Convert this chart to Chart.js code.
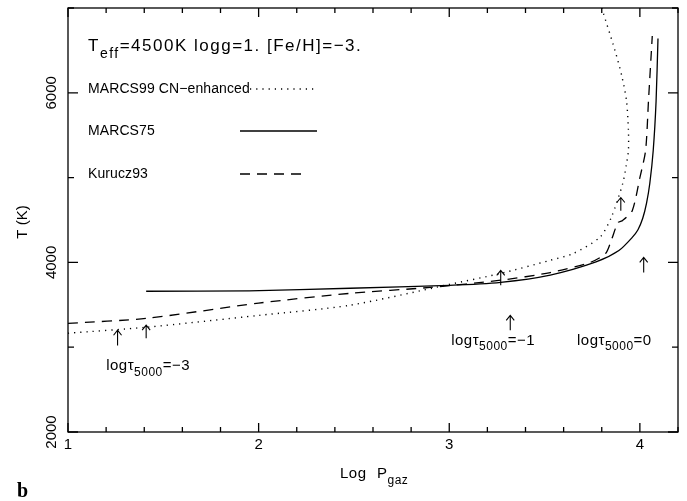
<!DOCTYPE html>
<html>
<head>
    <title>T vs Log Pgaz</title>
    <script src="https://cdn.jsdelivr.net/npm/chart.js"></script>
    <style>body { margin: 0; background: #fff; }</style>
</head>
<body>
    <canvas id="myChart" width="687" height="501"></canvas>
    <script>
        // Curves (log Pgaz, T in K)
        const logP_marcs99 = [1.00, 1.41, 2.00, 2.48, 3.00, 3.27, 3.53, 3.65, 3.79, 3.85, 3.91, 3.93, 3.94, 3.94, 3.93, 3.905, 3.87, 3.80];
        const T_marcs99 = [3165, 3235, 3375, 3495, 3740, 3870, 4025, 4105, 4295, 4530, 4930, 5165, 5320, 5550, 5905, 6200, 6495, 7000];

        const logP_marcs75 = [1.41, 1.95, 2.48, 3.00, 3.27, 3.53, 3.77, 3.89, 3.96, 3.99, 4.015, 4.035, 4.052, 4.07, 4.085, 4.095];
        const T_marcs75 = [3660, 3665, 3695, 3730, 3765, 3850, 4005, 4140, 4295, 4385, 4520, 4700, 4930, 5320, 5900, 6640];

        const logP_kurucz93 = [1.00, 1.41, 2.00, 2.48, 2.90, 3.27, 3.53, 3.74, 3.82, 3.85, 3.885, 3.91, 3.96, 4.00, 4.03, 4.045, 4.065];
        const T_kurucz93 = [3280, 3340, 3520, 3635, 3705, 3790, 3880, 4000, 4105, 4260, 4470, 4495, 4610, 5000, 5320, 5900, 6670];

        const seriesNames = ['MARCS99 CN\u2212enhanced', 'MARCS75', 'Kurucz93'];

        // tau markers (arrows) and their labels
        const arrowX = [1.26, 1.41, 3.27, 3.32, 3.90, 4.02];
        const arrowFrom = [3020, 3105, 3730, 3200, 4610, 3880];
        const arrowTo = [3200, 3260, 3905, 3375, 4765, 4060];
        const tauLabels = ['\u22123', '\u22121', '0'];
        const tauLabelX = [1.20, 3.01, 3.67];
        const tauLabelT = [2780, 3080, 3080];

        const xTicks = ['1', '2', '3', '4'];
        const yTicks = ['2000', '4000', '6000'];

        const toPoints = (xs, ys) => xs.map((x, i) => ({ x, y: ys[i] }));
        const FONT = '"Liberation Sans", Arial, sans-serif';

        // draw text made of [string, isSubscript] pieces
        function drawParts(ctx, parts, x, y, size, spacing) {
            ctx.textBaseline = 'middle';
            ctx.textAlign = 'left';
            parts.forEach(([s, sub]) => {
                ctx.font = (sub ? Math.round(size * 0.8) : size) + 'px ' + FONT;
                ctx.letterSpacing = spacing + 'px';
                ctx.fillText(s, x, sub ? y + size * 0.45 : y);
                x += ctx.measureText(s).width;
            });
            ctx.letterSpacing = '0px';
        }

        const decor = {
            id: 'decor',
            afterDraw(chart) {
                const ctx = chart.ctx;
                const a = chart.chartArea;
                const xs = chart.scales.x, ys = chart.scales.y;
                ctx.save();
                ctx.strokeStyle = '#000';
                ctx.fillStyle = '#000';
                ctx.lineWidth = 1.3;
                ctx.strokeRect(a.left, a.top, a.right - a.left, a.bottom - a.top);

                // ticks on all four sides
                ctx.beginPath();
                for (let i = 0; i <= 16; i++) {
                    const v = 1 + i * 0.2;
                    const px = xs.getPixelForValue(v);
                    const len = i % 5 === 0 ? 9 : 5;
                    ctx.moveTo(px, a.bottom); ctx.lineTo(px, a.bottom - len);
                    ctx.moveTo(px, a.top); ctx.lineTo(px, a.top + len);
                }
                for (let v = 2000; v <= 7000; v += 1000) {
                    const py = ys.getPixelForValue(v);
                    const len = v % 2000 === 0 ? 10 : 6;
                    ctx.moveTo(a.left, py); ctx.lineTo(a.left + len, py);
                    ctx.moveTo(a.right, py); ctx.lineTo(a.right - len, py);
                }
                ctx.stroke();

                // tick labels
                ctx.font = '15px ' + FONT;
                ctx.textAlign = 'center';
                ctx.textBaseline = 'middle';
                xTicks.forEach(t => ctx.fillText(t, xs.getPixelForValue(+t), a.bottom + 13));
                yTicks.forEach(t => {
                    ctx.save();
                    ctx.translate(a.left - 16, ys.getPixelForValue(+t));
                    ctx.rotate(-Math.PI / 2);
                    ctx.fillText(t, 0, 0);
                    ctx.restore();
                });

                // axis titles
                ctx.save();
                ctx.translate(23, 222);
                ctx.rotate(-Math.PI / 2);
                ctx.font = '15px ' + FONT;
                ctx.fillText('T (K)', 0, 0);
                ctx.restore();
                drawParts(ctx, [['Log', false]], 340, 474, 15, 0.5);
                drawParts(ctx, [['P', false], ['gaz', true]], 377, 474, 15, 0.5);

                ctx.font = 'bold 20px "Liberation Serif", serif';
                ctx.textAlign = 'left';
                ctx.textBaseline = 'alphabetic';
                ctx.fillText('b', 17, 497);

                // header and legend
                drawParts(ctx, [['T', false], ['eff', true], ['=4500K logg=1. [Fe/H]=\u22123.', false]], a.left + 20, a.top + 38, 17, 1.5);
                const legendY = [89, 131, 174];
                const sampleX = [[250, 315], [240, 317], [240, 307]];
                chart.data.datasets.forEach((ds, i) => {
                    drawParts(ctx, [[seriesNames[i], false]], a.left + 20, legendY[i], 14, 0.1);
                    ctx.save();
                    ctx.lineWidth = ds.borderWidth;
                    ctx.setLineDash(ds.borderDash || []);
                    ctx.beginPath();
                    ctx.moveTo(sampleX[i][0], legendY[i]);
                    ctx.lineTo(sampleX[i][1], legendY[i]);
                    ctx.stroke();
                    ctx.restore();
                });

                // arrows
                ctx.lineWidth = 1.1;
                ctx.beginPath();
                arrowX.forEach((v, i) => {
                    const px = xs.getPixelForValue(v);
                    const y0 = ys.getPixelForValue(arrowFrom[i]);
                    const y1 = ys.getPixelForValue(arrowTo[i]);
                    ctx.moveTo(px, y0); ctx.lineTo(px, y1);
                    ctx.moveTo(px - 4, y1 + 5); ctx.lineTo(px, y1); ctx.lineTo(px + 4, y1 + 5);
                });
                ctx.stroke();

                // tau labels
                tauLabels.forEach((t, i) => {
                    drawParts(ctx, [['log\u03c4', false], ['5000', true], ['=' + t, false]],
                        xs.getPixelForValue(tauLabelX[i]), ys.getPixelForValue(tauLabelT[i]), 15, 0.5);
                });
                ctx.restore();
            }
        };

        const ctx = document.getElementById('myChart').getContext('2d');
        new Chart(ctx, {
            type: 'scatter',
            data: {
                datasets: [
                    { label: seriesNames[0], data: toPoints(logP_marcs99, T_marcs99), borderDash: [1.2, 5], borderWidth: 1.4 },
                    { label: seriesNames[1], data: toPoints(logP_marcs75, T_marcs75), borderWidth: 1.3 },
                    { label: seriesNames[2], data: toPoints(logP_kurucz93, T_kurucz93), borderDash: [10, 7], borderWidth: 1.3 }
                ].map(ds => Object.assign(ds, {
                    showLine: true, pointRadius: 0, borderColor: '#000', tension: 0.25, fill: false
                }))
            },
            options: {
                responsive: false,
                animation: false,
                layout: { padding: { left: 68, right: 9, top: 8, bottom: 69 } },
                plugins: { legend: { display: false }, tooltip: { enabled: false } },
                scales: {
                    x: { type: 'linear', min: 1, max: 4.2, display: false },
                    y: { type: 'linear', min: 2000, max: 7000, display: false }
                }
            },
            plugins: [decor]
        });
    </script>
</body>
</html>
